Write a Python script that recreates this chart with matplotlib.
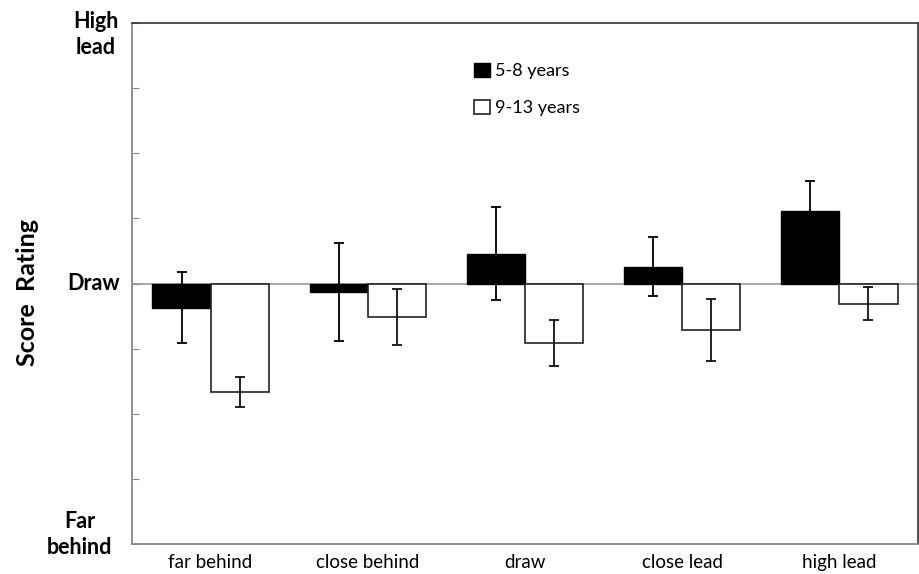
import matplotlib.pyplot as plt
import numpy as np

# values (scale: Far behind = -4, Draw = 0, High lead = 4)
categories = ['far behind', 'close behind', 'draw', 'close lead', 'high lead']
young = [-0.37, -0.13, 0.46, 0.26, 1.12]
young_err = [0.54, 0.75, 0.71, 0.45, 0.46]
old = [-1.66, -0.52, -0.91, -0.71, -0.31]
old_err = [0.23, 0.43, 0.35, 0.48, 0.25]

plt.rcParams['font.family'] = ['Lato', 'DejaVu Sans']

fig = plt.figure(figsize=(9.2, 5.74), dpi=100)
ax = fig.add_axes([0.1435, 0.052, 0.8543, 0.908])

x = np.arange(len(categories))
w = 0.37

ax.axhline(0, color='#999999', lw=1.2, zorder=1)

ax.bar(x - w / 2, young, w, color='black', edgecolor='black', lw=1,
       label='5-8 years', zorder=2)
ax.bar(x + w / 2, old, w, color='white', edgecolor='#222222', lw=1.2,
       label='9-13 years', zorder=2)
ax.errorbar(x - w / 2, young, yerr=young_err, fmt='none', ecolor='black',
            elinewidth=1.3, capsize=3.5, capthick=1.3, zorder=1.5)
ax.errorbar(x + w / 2, old, yerr=old_err, fmt='none', ecolor='#111111',
            elinewidth=1.3, capsize=3.5, capthick=1.3, zorder=3)

ax.set_xlim(-0.5, len(categories) - 0.5)
ax.set_ylim(-4, 4)
ax.set_xticks(x)
ax.set_xticklabels(categories, fontsize=13.5)
ax.tick_params(axis='x', length=0, pad=7)
ax.set_yticks(range(-4, 5))
ax.set_yticklabels([])
ax.tick_params(axis='y', direction='in', length=5, color='#888888')

for side in ['left', 'bottom']:
    ax.spines[side].set_color('#888888')
    ax.spines[side].set_linewidth(1.3)
for side in ['top', 'right']:
    ax.spines[side].set_color('#333333')
    ax.spines[side].set_linewidth(1.2)

trans = ax.get_yaxis_transform()
ax.text(-0.017, 3.82, 'High\nlead', transform=trans, ha='right', va='center',
        multialignment='center', fontsize=15.5, fontweight='bold',
        linespacing=1.3)
ax.text(-0.015, 0, 'Draw', transform=trans, ha='right', va='center',
        fontsize=15.5, fontweight='bold')
ax.text(-0.025, -3.85, 'Far\nbehind', transform=trans, ha='right', va='center',
        multialignment='center', fontsize=15.5, fontweight='bold',
        linespacing=1.3)

fig.text(0.03, 0.49, 'Score  Rating', rotation=90, ha='center', va='center',
         fontsize=18, fontweight='bold')

ax.legend(loc='upper left', bbox_to_anchor=(0.415, 0.955), frameon=False,
          fontsize=13, handlelength=0.85, handleheight=0.85, handletextpad=0.3,
          labelspacing=1.15)

fig.savefig('out.png', dpi=100)
